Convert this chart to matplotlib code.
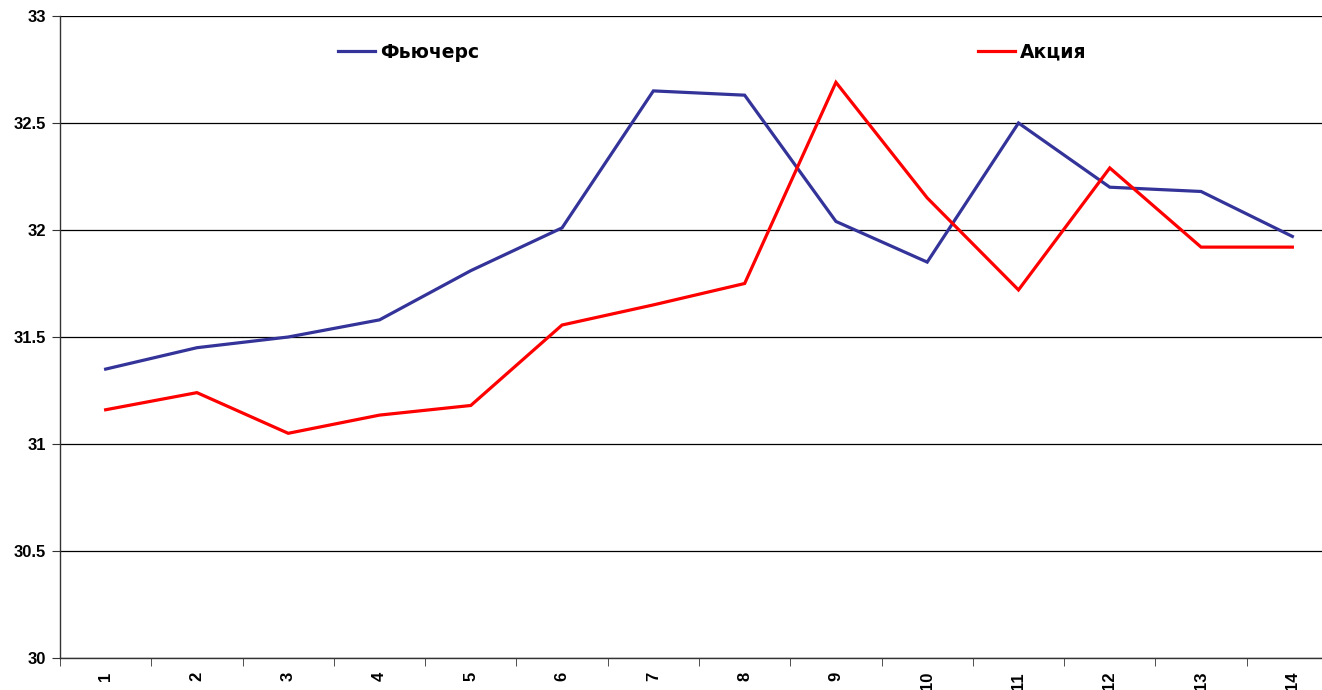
import matplotlib
matplotlib.use("Agg")
import matplotlib.pyplot as plt
from matplotlib.lines import Line2D

plt.rcParams['font.family'] = ['Liberation Sans', 'DejaVu Sans']

days = list(range(1, 15))
futures = [31.35, 31.45, 31.50, 31.58, 31.81, 32.01, 32.65, 32.63, 32.04, 31.85, 32.50, 32.20, 32.18, 31.97]
stock = [31.16, 31.24, 31.05, 31.135, 31.18, 31.556, 31.65, 31.75, 32.69, 32.15, 31.72, 32.29, 31.92, 31.92]
series_names = ["Фьючерс", "Акция"]
y_ticks = [30, 30.5, 31, 31.5, 32, 32.5, 33]
y_tick_labels = ["30", "30.5", "31", "31.5", "32", "32.5", "33"]

W, H = 1322, 690
fig = plt.figure(figsize=(W / 100, H / 100), dpi=100)
ax = fig.add_axes([60 / W, (H - 658) / H, (1338 - 60) / W, (658 - 16) / H])

blue = "#333399"
red = "#FF0000"
x = list(range(len(days)))
ax.plot(x, futures, color=blue, lw=2.3, solid_joinstyle="miter")
ax.plot(x, stock, color=red, lw=2.3, solid_joinstyle="miter")

ax.set_xlim(-0.5, len(days) - 0.5)
ax.set_ylim(30, 33)
ax.set_yticks(y_ticks)
ax.set_yticklabels(y_tick_labels, fontsize=12, fontweight="bold")
ax.set_xticks(x)
ax.set_xticklabels([str(d) for d in days], rotation=90, fontsize=12, fontweight="bold")
ax.tick_params(axis="x", length=0, pad=10)
ax.set_xticks([i - 0.5 for i in range(len(days) + 1)], minor=True)
ax.tick_params(axis="x", which="minor", length=6, direction="out", color="#333333")
ax.tick_params(axis="y", length=6, direction="out", color="#333333", pad=4)

ax.grid(axis="y", color="black", lw=0.9)
ax.set_axisbelow(True)
for s in ["top", "right"]:
    ax.spines[s].set_visible(False)
for s in ["left", "bottom"]:
    ax.spines[s].set_color("#333333")
    ax.spines[s].set_linewidth(1.0)

# Legend entries placed separately across the top of the plot
for name, color, xpx in [(series_names[0], blue, 338), (series_names[1], red, 978)]:
    handle = Line2D([], [], color=color, lw=2.3)
    fig.legend([handle], [name], loc="center left",
               bbox_to_anchor=(xpx / W, 1 - 52 / H),
               frameon=False, borderpad=0, borderaxespad=0,
               handlelength=1.95, handletextpad=0.3,
               prop={"family": "DejaVu Sans", "size": 13.5, "weight": "bold"})

fig.savefig("out.png", dpi=100)
